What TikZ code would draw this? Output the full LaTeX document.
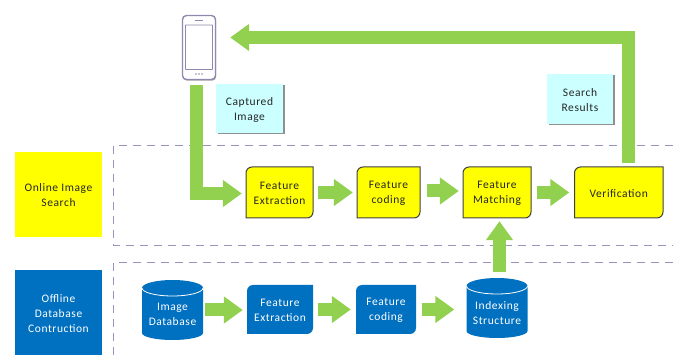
\documentclass[tikz,border=0pt]{standalone}
\usepackage{fontspec}
\setmainfont[LetterSpace=5]{Carlito}
\usetikzlibrary{arrows.meta,shadows}
\definecolor{gr}{HTML}{92D050}
\definecolor{bl}{HTML}{0070C0}
\definecolor{ye}{HTML}{FFFF00}
\definecolor{cy}{HTML}{CCFFFF}
\definecolor{da}{HTML}{9A94BC}
\definecolor{ph}{HTML}{8E8AAE}
\tikzset{
  txt/.style={font=\fontsize{11.5}{15}\selectfont, align=center, inner sep=0pt, yshift=-1pt, text=#1},
  txt/.default=black!85,
  flow/.style={draw=gr, line width=13pt, -{Triangle[length=19pt,width=26pt]}},
  dashbox/.style={draw=da, line width=1.5pt, dash pattern=on 8pt off 6pt},
  yshape/.style={draw=black!75, line width=1pt, fill=ye},
  bshape/.style={fill=bl},
  note/.style={fill=cy, inner sep=0pt, drop shadow={shadow xshift=1.5pt,shadow yshift=-1.5pt,fill=black!55,opacity=.8}},
}
\newcommand{\procbox}[6]{%
  \path[#6] [rounded corners=6pt] (#2,#5) -- (#2,#3) [sharp corners] -- (#4,#3)
    [rounded corners=6pt] -- (#4,#5) [sharp corners] -- cycle;
  \node[inner sep=0pt, minimum width={(#4-#2)*1pt}, minimum height={(#5-#3)*1pt}] (#1) at ({(#2+#4)/2},{(#3+#5)/2}) {};
}
% name, left, top, right, bottom, text centre y, text
\newcommand{\cylbox}[7]{%
  \fill[bl] ({#2},{#3+8}) arc (180:0:30.5pt and 8pt) -- ({#4},{#5-7}) arc (360:180:30.5pt and 7pt) -- cycle;
  \draw[white, line width=.8pt] ({#2},{#3+8}) arc (180:360:30.5pt and 8pt);
  \node[inner sep=0pt, minimum width={(#4-#2)*1pt}, minimum height={(#5-#3)*1pt}] (#1) at ({(#2+#4)/2},{(#3+#5)/2}) {};
  \node[txt=white] at ({(#2+#4)/2},#6) {#7};
}
\begin{document}
\begin{tikzpicture}[x=1pt,y=-1pt]
\useasboundingbox (0,0) rectangle (673,355);
% region frames
\draw[dashbox] (673,145.5) -- (113.5,145.5) -- (113.5,245.5) -- (673,245.5);
\draw[dashbox] (673,262.5) -- (113.5,262.5) -- (113.5,355);
% side labels
\node[fill=ye, inner sep=0pt, minimum width=87pt, minimum height=85pt] (online) at (58.5,194.5) {};
\node[txt] at (online) {Online Image\\Search};
\node[fill=bl, inner sep=0pt, minimum width=87pt, minimum height=85pt] (offline) at (58.5,312.5) {};
\node[txt=white] at (offline) {Offline\\Database\\Contruction};
% phone
\node[draw=ph, line width=1.4pt, fill=white, rounded corners=4pt, minimum width=33pt, minimum height=64pt, inner sep=0pt,
  drop shadow={shadow xshift=.6pt,shadow yshift=-1.2pt,fill=black!50,opacity=.7}] (phone) at (199,47.5) {};
\draw[ph, line width=.8pt, rounded corners=.5pt] (185.5,25) rectangle (212.5,69.5);
\draw[ph, line width=1pt] (195,21) -- (203,21);
\fill[ph] (196,74) circle (.8) (199,74) circle (.8) (202,74) circle (.8);
% notes
\node[note, minimum width=67pt, minimum height=49pt] (cap) at (249.5,108.5) {};
\node[txt] at (cap) {Captured\\Image};
\node[note, minimum width=66pt, minimum height=50pt] (res) at (580,99) {};
\node[txt] at (res) {Search\\Results};
% online row
\procbox{fe}{246}{167}{313}{218}{yshape}
\procbox{fc}{357}{167}{420}{218}{yshape}
\procbox{fm}{463}{167}{531}{218}{yshape}
\procbox{ver}{574.5}{167}{663}{218}{yshape}
\node[txt] at (fe) {Feature\\Extraction};
\node[txt] at (fc) {Feature\\coding};
\node[txt] at (fm) {Feature\\Matching};
\node[txt] at (ver) {Verification};
% offline row
\cylbox{db}{142}{280}{203}{340}{313.5}{Image\\Database}
\procbox{ofe}{247}{285}{313}{334}{bshape}
\procbox{ofc}{356}{285}{416}{334}{bshape}
\node[txt=white] at (ofe) {Feature\\Extraction};
\node[txt=white] at (ofc) {Feature\\coding};
\cylbox{idx}{466.5}{278}{527.5}{338}{312.5}{Indexing\\Structure}
% connectors
\draw[flow] ([xshift=-2.5pt,yshift=-5pt]phone.south) |- ([xshift=-4pt,yshift=-1pt]fe.west);
\draw[flow] ([xshift=10pt,yshift=4pt]ver.north) |- ([xshift=14pt,yshift=10pt]phone.east);
\draw[flow] ([xshift=5pt]fe.east) -- ([xshift=-4pt]fc.west);
\draw[flow] ([xshift=7pt,yshift=1.5pt]fc.east) -- ([xshift=-4pt,yshift=1.5pt]fm.west);
\draw[flow] ([xshift=6pt]fm.east) -- ([xshift=-5pt]ver.west);
\draw[flow] ([xshift=2.5pt,yshift=6pt]idx.north) -- ([xshift=2.5pt,yshift=-3pt]fm.south);
\draw[flow] ([xshift=2pt]db.east) -- ([xshift=-4pt]db.east -| ofe.west);
\draw[flow] ([xshift=5pt]ofe.east) -- ([xshift=-5pt]ofc.west);
\draw[flow] ([xshift=6pt]ofc.east) -- ([xshift=-12pt]ofc.east -| idx.west);
\end{tikzpicture}
\end{document}
